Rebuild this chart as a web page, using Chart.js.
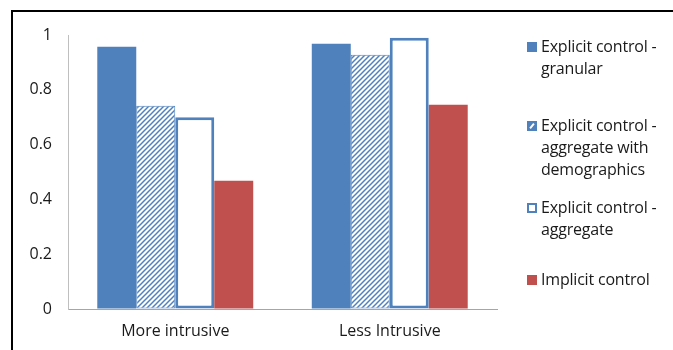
<!DOCTYPE html>
<html>
<head>
<meta charset="utf-8">
<script src="https://cdn.jsdelivr.net/npm/chart.js@4.4.1/dist/chart.umd.min.js"></script>
<style>
  html, body { margin: 0; padding: 0; background: #fff; }
  #wrap { position: relative; width: 673px; height: 350px; overflow: hidden; font-family: "Open Sans", sans-serif; }
  #frame { position: absolute; left: 11px; top: 10px; right: -5px; bottom: -5px; border-left: 2px solid #000; border-top: 2px solid #000; pointer-events: none; }
  canvas#c { position: absolute; left: 0; top: 0; }
  .lg { position: absolute; left: 541px; font-size: 16px; line-height: 22px; color: #1a1a1a; white-space: nowrap; letter-spacing: -0.2px; }
  .mk { position: absolute; left: 527px; width: 10px; height: 10px; box-sizing: border-box; }
</style>
</head>
<body>
<div id="wrap">
  <canvas id="c" width="673" height="350"></canvas>
  <div id="legend"></div>
  <div id="frame"></div>
</div>
<script>
const categories = ['More intrusive', 'Less Intrusive'];
const seriesNames = [
  ['Explicit control -', 'granular'],
  ['Explicit control -', 'aggregate with', 'demographics'],
  ['Explicit control -', 'aggregate'],
  ['Implicit control']
];
const granular = [0.957, 0.968];
const aggregateDemo = [0.742, 0.928];
const aggregate = [0.70, 0.99];
const implicitCtl = [0.468, 0.745];
const yTickLabels = ['0', '0.2', '0.4', '0.6', '0.8', '1'];

const BLUE = '#4F81BD';
const RED = '#C0504D';

function hatch() {
  const n = 5;
  const p = document.createElement('canvas');
  p.width = n; p.height = n;
  const g = p.getContext('2d');
  g.fillStyle = '#fff';
  g.fillRect(0, 0, n, n);
  g.strokeStyle = BLUE;
  g.lineWidth = 1.5;
  g.beginPath();
  g.moveTo(-1, n + 1); g.lineTo(n + 1, -1);
  g.moveTo(-1, 1); g.lineTo(1, -1);
  g.moveTo(n - 1, n + 1); g.lineTo(n + 1, n - 1);
  g.stroke();
  return g.createPattern(p, 'repeat');
}

const ctx = document.getElementById('c').getContext('2d');
const hatchPattern = hatch();
const tickFont = { family: 'Open Sans', size: 16 };

new Chart(ctx, {
  type: 'bar',
  data: {
    labels: categories,
    datasets: [
      { label: seriesNames[0].join(' '), data: granular, backgroundColor: BLUE, borderWidth: 0 },
      { label: seriesNames[1].join(' '), data: aggregateDemo, backgroundColor: hatchPattern, borderColor: BLUE, borderWidth: 1, borderSkipped: false },
      { label: seriesNames[2].join(' '), data: aggregate, backgroundColor: '#fff', borderColor: BLUE, borderWidth: 3, borderSkipped: false },
      { label: seriesNames[3].join(' '), data: implicitCtl, backgroundColor: RED, borderWidth: 0 }
    ]
  },
  options: {
    responsive: false,
    animation: false,
    devicePixelRatio: 1,
    layout: { padding: { left: 0, right: 176, top: 35, bottom: 0 } },
    datasets: { bar: { categoryPercentage: 0.727, barPercentage: 1.0 } },
    plugins: { legend: { display: false }, tooltip: { enabled: false } },
    scales: {
      x: {
        grid: { display: true, color: 'rgba(0,0,0,0)', drawTicks: false },
        border: { display: true, color: '#a6a6a6', width: 1 },
        ticks: { color: '#1a1a1a', font: tickFont, padding: 13 },
        afterFit: s => { s.height = 41; }
      },
      y: {
        min: 0, max: 1,
        grid: { display: true, color: 'rgba(0,0,0,0)', drawTicks: false },
        border: { display: true, color: '#bfbfbf', width: 1 },
        ticks: {
          stepSize: 0.2,
          color: '#1a1a1a',
          font: tickFont,
          padding: 16,
          callback: (v, i) => yTickLabels[i]
        },
        afterFit: s => { s.width = 68; }
      }
    }
  }
});

// legend (HTML text)
const legendTops = [46, 125, 207, 279];
const lg = document.getElementById('legend');
const markerStyles = [
  'background:' + BLUE + ';',
  'background:' + BLUE + ';',
  'background:#fff;border:2px solid ' + BLUE + ';',
  'background:' + RED + ';'
];
seriesNames.forEach((lines, i) => {
  const t = document.createElement('div');
  t.className = 'lg';
  t.style.top = (legendTops[i] - 11) + 'px';
  t.innerHTML = lines.join('<br>');
  lg.appendChild(t);
  const m = document.createElement('div');
  m.className = 'mk';
  m.style.cssText += markerStyles[i];
  m.style.top = (legendTops[i] - 4) + 'px';
  if (i === 1) {
    const w = document.createElement('div');
    w.style.cssText = 'position:absolute;left:4px;top:2px;width:2px;height:6px;background:#fff;transform:rotate(40deg);';
    m.appendChild(w);
  }
  lg.appendChild(m);
});
</script>
</body>
</html>
